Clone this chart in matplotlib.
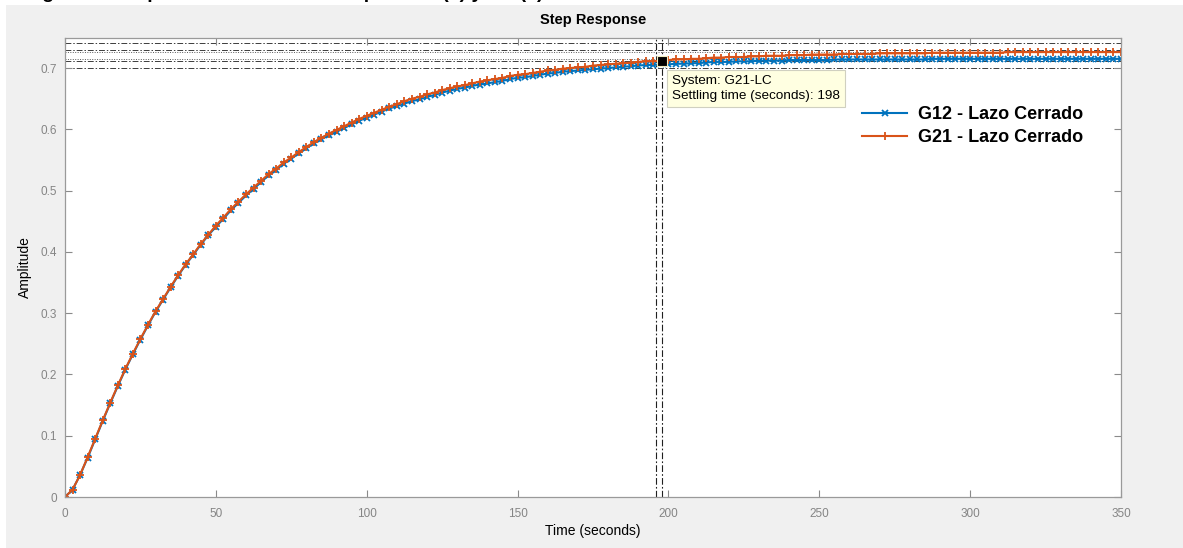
import numpy as np
import matplotlib.pyplot as plt
from matplotlib.patches import Rectangle

plt.rcParams['font.family'] = ['Liberation Sans', 'DejaVu Sans']

# respuesta al escalon (paso de 2.5 s)
t = np.arange(0, 352.5, 2.5)

g12 = [0.000, 0.012, 0.036, 0.064, 0.094, 0.124, 0.153, 0.181, 0.208, 0.233,
       0.257, 0.280, 0.302, 0.322, 0.342, 0.361, 0.379, 0.395, 0.412, 0.427,
       0.441, 0.454, 0.468, 0.480, 0.492, 0.503, 0.514, 0.525, 0.534, 0.544,
       0.552, 0.561, 0.569, 0.577, 0.584, 0.590, 0.596, 0.602, 0.608, 0.614,
       0.619, 0.624, 0.629, 0.634, 0.638, 0.642, 0.646, 0.649, 0.653, 0.656,
       0.660, 0.663, 0.666, 0.668, 0.671, 0.673, 0.675, 0.677, 0.679, 0.682,
       0.684, 0.685, 0.687, 0.689, 0.691, 0.692, 0.694, 0.695, 0.696, 0.697,
       0.698, 0.699, 0.700, 0.701, 0.702, 0.703, 0.704, 0.705, 0.705, 0.706,
       0.706, 0.707, 0.707, 0.708, 0.708, 0.709, 0.710, 0.710, 0.710, 0.711,
       0.711, 0.711, 0.712, 0.712, 0.712, 0.712, 0.713, 0.713, 0.713, 0.713,
       0.713, 0.713, 0.714, 0.714, 0.714, 0.714, 0.714, 0.714, 0.714, 0.714,
       0.714, 0.714, 0.714, 0.714, 0.714, 0.715, 0.715, 0.715, 0.715, 0.715,
       0.715, 0.715, 0.715, 0.715, 0.715, 0.715, 0.715, 0.715, 0.715, 0.715,
       0.715, 0.715, 0.715, 0.715, 0.715, 0.715, 0.715, 0.715, 0.715, 0.715,
       0.715]

g21 = [0.000, 0.012, 0.036, 0.065, 0.095, 0.125, 0.154, 0.182, 0.209, 0.234,
       0.258, 0.281, 0.303, 0.323, 0.343, 0.362, 0.380, 0.396, 0.413, 0.428,
       0.443, 0.456, 0.470, 0.482, 0.494, 0.505, 0.516, 0.527, 0.536, 0.546,
       0.554, 0.563, 0.571, 0.579, 0.586, 0.593, 0.599, 0.605, 0.611, 0.617,
       0.622, 0.627, 0.632, 0.637, 0.641, 0.646, 0.650, 0.653, 0.657, 0.660,
       0.664, 0.667, 0.670, 0.672, 0.675, 0.678, 0.680, 0.682, 0.684, 0.687,
       0.689, 0.690, 0.692, 0.694, 0.696, 0.697, 0.699, 0.700, 0.701, 0.702,
       0.704, 0.705, 0.706, 0.707, 0.708, 0.709, 0.710, 0.711, 0.711, 0.712,
       0.713, 0.714, 0.714, 0.715, 0.715, 0.716, 0.717, 0.717, 0.718, 0.718,
       0.718, 0.719, 0.719, 0.720, 0.720, 0.720, 0.721, 0.721, 0.721, 0.722,
       0.722, 0.722, 0.722, 0.723, 0.723, 0.723, 0.723, 0.723, 0.724, 0.724,
       0.724, 0.724, 0.724, 0.724, 0.724, 0.725, 0.725, 0.725, 0.725, 0.725,
       0.725, 0.725, 0.725, 0.725, 0.725, 0.726, 0.726, 0.726, 0.726, 0.726,
       0.726, 0.726, 0.726, 0.726, 0.726, 0.726, 0.726, 0.726, 0.726, 0.726,
       0.726]

etiquetas = ['G12 - Lazo Cerrado', 'G21 - Lazo Cerrado']
valor_final = [0.715, 0.726]
t_establ = [196, 198]
tip_t, tip_y = 198, 0.712

xticks = [0, 50, 100, 150, 200, 250, 300, 350]
yticks = [0, 0.1, 0.2, 0.3, 0.4, 0.5, 0.6, 0.7]
ytick_lbl = ['0', '0.1', '0.2', '0.3', '0.4', '0.5', '0.6', '0.7']

azul = '#0072BD'
naranja = '#D95319'

fig = plt.figure(figsize=(11.83, 5.48), dpi=100)
fig.patch.set_facecolor('white')
fig.add_artist(Rectangle((6 / 1183, 0), 1, 1 - 5 / 548, transform=fig.transFigure,
                         facecolor='#f0f0f0', edgecolor='none', zorder=-10))
# pie de figura cortado arriba (solo se ve la parte de abajo)
fig.text(25 / 1183, 1 + 2 / 548, 'Figura 9. Respuesta en lazo cerrado para G\u2081\u2082(s) y G\u2082\u2081(s)',
         fontsize=14, fontweight='bold', va='baseline', ha='left')

ax = fig.add_axes([65 / 1183, 51 / 548, 1056 / 1183, 459 / 548])

ax.plot(t, g12, '-x', color=azul, lw=1.5, ms=5, mew=1.3, label=etiquetas[0])
ax.plot(t, g21, '-+', color=naranja, lw=1.5, ms=6, mew=1.3, label=etiquetas[1])

# bandas de establecimiento (2%) y valor final
for vf in valor_final:
    ax.axhline(vf * 1.02, color='#3c3c3c', lw=0.7, ls=(0, (6, 2, 1.5, 2)), zorder=1)
    ax.axhline(vf * 0.98, color='#3c3c3c', lw=0.7, ls=(0, (6, 2, 1.5, 2)), zorder=1)
    ax.axhline(vf, color='#5a5a5a', lw=0.7, ls=(0, (1, 1.5)), zorder=1)
for ts in t_establ:
    ax.axvline(ts, color='#202020', lw=0.8, ls=(0, (6, 2, 1.5, 2)), zorder=1)

ax.plot(tip_t, tip_y, 's', color='k', ms=7, mec='#f0ecc0', mew=0.8, zorder=5)
ax.annotate('System: G21-LC\nSettling time (seconds): 198', xy=(tip_t, tip_y),
            xytext=(7, -10), textcoords='offset points', ha='left', va='top',
            fontsize=9.7, linespacing=1.4,
            bbox=dict(boxstyle='square,pad=0.35', facecolor='#ffffe1', edgecolor='#d0d0c0', lw=0.8),
            zorder=6)

ax.set_xlim(0, 350)
ax.set_ylim(0, 0.749)
ax.set_xticks(xticks)
ax.set_yticks(yticks)
ax.set_yticklabels(ytick_lbl)
ax.tick_params(direction='in', top=True, right=True, length=5, width=0.8,
               color='#8a8a8a', labelcolor='#858585', labelsize=8.5)
ax.tick_params(axis='x', pad=8)
ax.tick_params(axis='y', pad=6)
for s in ax.spines.values():
    s.set_color('#9a9a9a')
    s.set_linewidth(0.9)

ax.set_title('Step Response', fontsize=10.5, fontweight='bold', pad=10)
ax.set_xlabel('Time (seconds)', fontsize=10, labelpad=3)
ax.set_ylabel('Amplitude', fontsize=10, labelpad=6)

ax.legend(loc='upper left', bbox_to_anchor=(0.7547, 0.852), frameon=False,
          prop={'weight': 'bold', 'size': 13}, handlelength=2.5, handletextpad=0.6,
          labelspacing=0.35, borderpad=0, borderaxespad=0)

fig.savefig('out.png', dpi=100)
